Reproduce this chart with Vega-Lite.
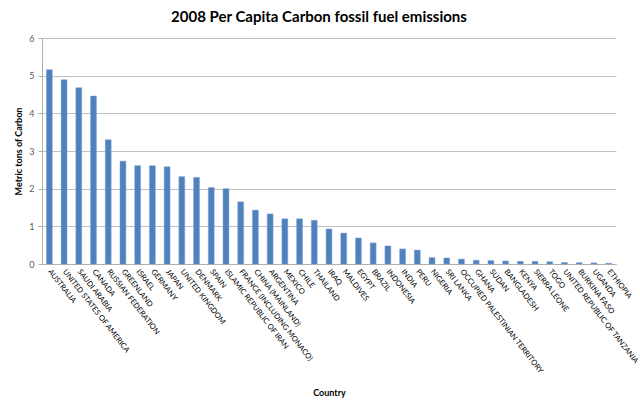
{
  "$schema": "https://vega.github.io/schema/vega-lite/v6.json",
  "autosize": "none",
  "width": 574,
  "height": 226,
  "padding": {"left": 42, "top": 38, "right": 24, "bottom": 148},
  "background": "white",
  "title": {
    "text": "2008 Per Capita Carbon fossil fuel emissions",
    "font": "Lato",
    "fontSize": 15,
    "fontWeight": "bold",
    "color": "#000000",
    "anchor": "middle",
    "dx": -10,
    "offset": 9
  },
  "data": {
    "values": [
      {"country": "AUSTRALIA", "value": 5.16},
      {"country": "UNITED STATES OF AMERICA", "value": 4.89},
      {"country": "SAUDI ARABIA", "value": 4.68},
      {"country": "CANADA", "value": 4.46},
      {"country": "RUSSIAN FEDERATION", "value": 3.30},
      {"country": "GREENLAND", "value": 2.73},
      {"country": "ISRAEL", "value": 2.61},
      {"country": "GERMANY", "value": 2.61},
      {"country": "JAPAN", "value": 2.58},
      {"country": "UNITED KINGDOM", "value": 2.32},
      {"country": "DENMARK", "value": 2.30},
      {"country": "SPAIN", "value": 2.03},
      {"country": "ISLAMIC REPUBLIC OF IRAN", "value": 2.00},
      {"country": "FRANCE (INCLUDING MONACO)", "value": 1.65},
      {"country": "CHINA (MAINLAND)", "value": 1.43},
      {"country": "ARGENTINA", "value": 1.33},
      {"country": "MEXICO", "value": 1.20},
      {"country": "CHILE", "value": 1.20},
      {"country": "THAILAND", "value": 1.16},
      {"country": "IRAQ", "value": 0.93},
      {"country": "MALDIVES", "value": 0.82},
      {"country": "EGYPT", "value": 0.69},
      {"country": "BRAZIL", "value": 0.56},
      {"country": "INDONESIA", "value": 0.48},
      {"country": "INDIA", "value": 0.40},
      {"country": "PERU", "value": 0.37},
      {"country": "NIGERIA", "value": 0.17},
      {"country": "SRI LANKA", "value": 0.16},
      {"country": "OCCUPIED PALESTINIAN TERRITORY", "value": 0.13},
      {"country": "GHANA", "value": 0.10},
      {"country": "SUDAN", "value": 0.09},
      {"country": "BANGLADESH", "value": 0.08},
      {"country": "KENYA", "value": 0.07},
      {"country": "SIERRA LEONE", "value": 0.07},
      {"country": "TOGO", "value": 0.06},
      {"country": "UNITED REPUBLIC OF TANZANIA", "value": 0.04},
      {"country": "BURKINA FASO", "value": 0.035},
      {"country": "UGANDA", "value": 0.03},
      {"country": "ETHIOPIA", "value": 0.02}
    ]
  },
  "mark": {"type": "bar", "color": "#4F81BD", "stroke": "#7fa3d1", "strokeWidth": 0.5},
  "encoding": {
    "x": {
      "field": "country",
      "type": "nominal",
      "sort": null,
      "scale": {"paddingInner": 0.6, "paddingOuter": 0.3},
      "axis": {
        "title": "Country",
        "titleFont": "Lato",
        "titleFontSize": 9,
        "titleFontWeight": "bold",
        "titleColor": "#000000",
        "titlePadding": 14,
        "labelAngle": 52,
        "labelFont": "Lato",
        "labelFontSize": 7.6,
        "labelColor": "#000000",
        "labelPadding": 6,
        "labelOverlap": false,
        "labelLimit": 0,
        "ticks": false,
        "domainColor": "#b0b0b0",
        "domainWidth": 1,
        "grid": false
      }
    },
    "y": {
      "field": "value",
      "type": "quantitative",
      "scale": {"domain": [0, 6], "nice": false},
      "axis": {
        "title": "Metric tons of Carbon",
        "titleFont": "Lato",
        "titleFontSize": 9,
        "titleFontWeight": "bold",
        "titleColor": "#000000",
        "titlePadding": 5,
        "values": [0, 1, 2, 3, 4, 5, 6],
        "format": "d",
        "labelFont": "Lato",
        "labelFontSize": 9,
        "labelColor": "#595959",
        "labelPadding": 4,
        "tickSize": 4,
        "tickColor": "#b0b0b0",
        "domainColor": "#b0b0b0",
        "gridColor": "#c0c0c0",
        "gridWidth": 1
      }
    }
  },
  "config": {
    "view": {"stroke": null}
  }
}
